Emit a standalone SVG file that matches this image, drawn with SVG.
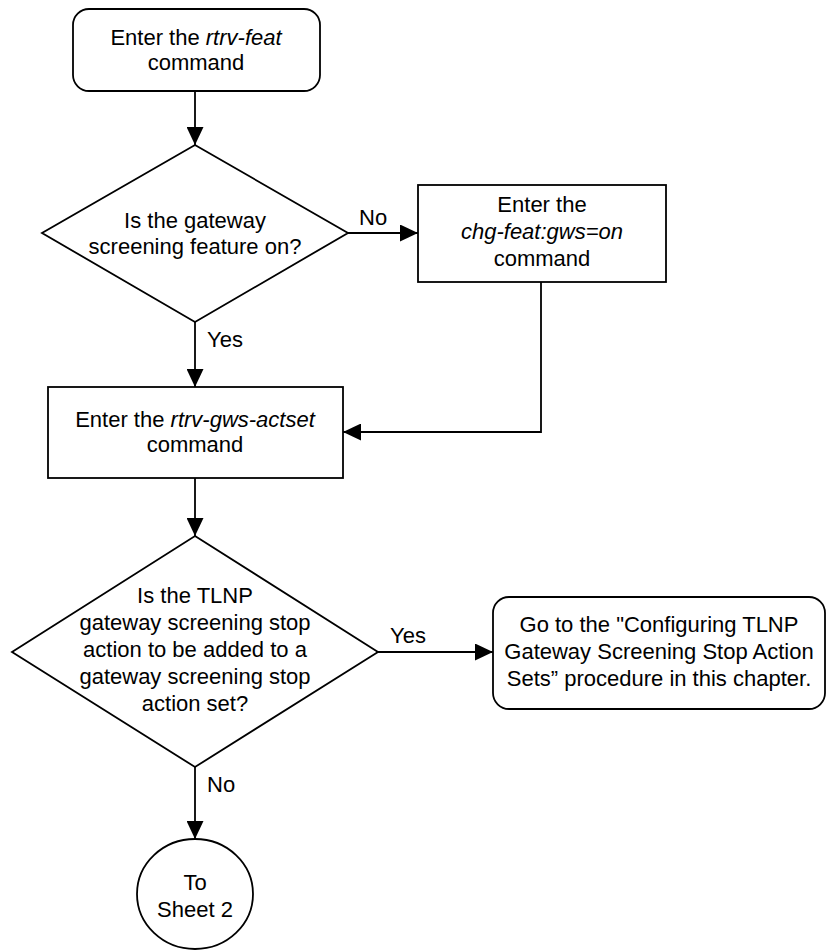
<svg xmlns="http://www.w3.org/2000/svg" width="827" height="950" viewBox="0 0 827 950">
<style>
.s{fill:#fff;stroke:#000;stroke-width:1.8}
.t{font-family:"Liberation Sans",Arial,Helvetica,sans-serif;font-size:22px;fill:#000;text-anchor:middle}
.l{font-family:"Liberation Sans",Arial,Helvetica,sans-serif;font-size:22px;fill:#000}
.i{font-style:italic}
.c{fill:none;stroke:#000;stroke-width:1.8}
</style>
<defs>
<marker id="arr" markerWidth="18" markerHeight="17" refX="18" refY="8.5" orient="auto" markerUnits="userSpaceOnUse">
<path d="M0,0 L18,8.5 L0,17 z" fill="#000"/>
</marker>
</defs>
<rect width="827" height="950" fill="#fff"/>
<g id="connectors">
<path class="c" d="M195,91 L195,145" marker-end="url(#arr)"/>
<path class="c" d="M348,233 L418,233" marker-end="url(#arr)"/>
<path class="c" d="M195,322 L195,387" marker-end="url(#arr)"/>
<path class="c" d="M541,282 L541,432 L343,432" marker-end="url(#arr)"/>
<path class="c" d="M195,478 L195,536" marker-end="url(#arr)"/>
<path class="c" d="M378,652 L493,652" marker-end="url(#arr)"/>
<path class="c" d="M195,767 L195,839" marker-end="url(#arr)"/>
<text class="l" x="359" y="225">No</text>
<text class="l" x="207" y="347">Yes</text>
<text class="l" x="390" y="643">Yes</text>
<text class="l" x="207" y="792">No</text>
</g>
<g id="start">
<rect class="s" x="73" y="9" width="247" height="82" rx="16" ry="16"/>
<text class="t" x="196" y="45">Enter the <tspan class="i">rtrv-feat</tspan></text>
<text class="t" x="196" y="70">command</text>
</g>
<g id="dec1">
<polygon class="s" points="195,145 348,233 195,322 42,233"/>
<text class="t" x="195" y="228">Is the gateway</text>
<text class="t" x="195" y="254">screening feature on?</text>
</g>
<g id="chgfeat">
<rect class="s" x="418" y="185" width="248" height="97"/>
<text class="t" x="542" y="212">Enter the</text>
<text class="t i" x="542" y="239">chg-feat:gws=on</text>
<text class="t" x="542" y="266">command</text>
</g>
<g id="actset">
<rect class="s" x="48" y="387" width="295" height="91"/>
<text class="t" x="195" y="427">Enter the <tspan class="i">rtrv-gws-actset</tspan></text>
<text class="t" x="195" y="452">command</text>
</g>
<g id="dec2">
<polygon class="s" points="195,536 378,652 195,767 12,652"/>
<text class="t" x="195" y="603">Is the TLNP</text>
<text class="t" x="195" y="630">gateway screening stop</text>
<text class="t" x="195" y="657">action to be added to a</text>
<text class="t" x="195" y="684">gateway screening stop</text>
<text class="t" x="195" y="711">action set?</text>
</g>
<g id="goto">
<rect class="s" x="493" y="597" width="332" height="112" rx="16" ry="16"/>
<text class="t" x="659" y="632">Go to the "Configuring TLNP</text>
<text class="t" x="659" y="659">Gateway Screening Stop Action</text>
<text class="t" x="659" y="686">Sets” procedure in this chapter.</text>
</g>
<g id="sheet2">
<ellipse class="s" cx="195" cy="894" rx="58" ry="55"/>
<text class="t" x="195" y="890">To</text>
<text class="t" x="195" y="917">Sheet 2</text>
</g>
</svg>
